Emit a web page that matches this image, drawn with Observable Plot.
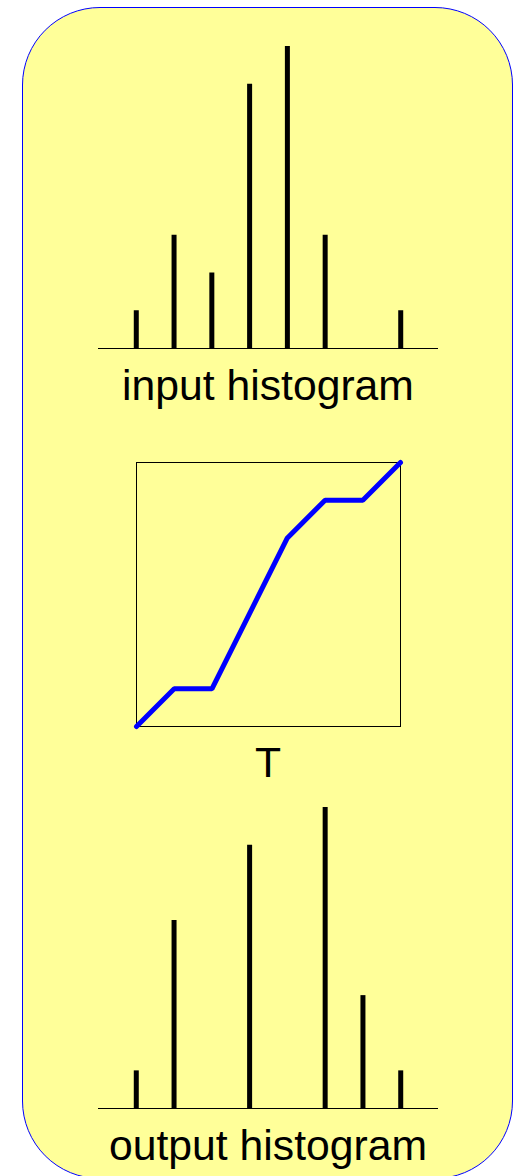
<!DOCTYPE html>
<html>
<head>
<meta charset="utf-8">
<script src="https://cdn.jsdelivr.net/npm/d3@7"></script>
<script src="https://cdn.jsdelivr.net/npm/@observablehq/plot@0.6"></script>
<style>
  html, body { margin: 0; padding: 0; background: #fff; }
  #page { position: relative; width: 516px; height: 1176px; overflow: hidden; }
  #card {
    position: absolute; left: 22px; top: 7px; width: 491px; height: 1172px;
    box-sizing: border-box; border: 1px solid #0000ff; border-radius: 78px;
    background: #ffff99;
  }
  .panel { position: absolute; left: 0; }
  .caption {
    position: absolute; left: 68px; width: 400px; text-align: center;
    font-family: "Liberation Sans", Arial, sans-serif; font-size: 42.7px;
    line-height: 42.7px; color: #000; white-space: nowrap;
  }
  svg { overflow: visible; }
</style>
</head>
<body>
<div id="page">
  <div id="card"></div>
</div>
<script>
// Grey levels 0..7
const levels = [0, 1, 2, 3, 4, 5, 6, 7];
// Pixel counts per level before equalisation
const inputCounts = [1, 3, 2, 7, 8, 3, 0, 1];
// Transfer function T: input level -> output level
const transfer = [0, 1, 1, 3, 5, 6, 6, 7];
// Pixel counts per level after applying T
const outputCounts = [1, 5, 0, 7, 0, 8, 3, 1];
// Caption texts
const captions = ["input histogram", "T", "output histogram"];

const page = document.getElementById("page");

function place(node, top) {
  node.classList.add("panel");
  node.style.top = top + "px";
  page.appendChild(node);
}

function caption(text, top) {
  const d = document.createElement("div");
  d.className = "caption";
  d.style.top = top + "px";
  d.textContent = text;
  page.appendChild(d);
}

function histogram(counts, height, marginTop) {
  const rows = levels.map((l, i) => ({level: l, count: counts[i]})).filter(d => d.count > 0);
  return Plot.plot({
    width: 516,
    height,
    marginLeft: 98,
    marginRight: 78,
    marginTop,
    marginBottom: 12,
    x: {domain: [-1, 8], axis: null},
    y: {domain: [0, 8], axis: null},
    style: {background: "transparent"},
    marks: [
      Plot.ruleY([0], {stroke: "#000", strokeWidth: 1}),
      Plot.ruleX(rows, {x: "level", y1: 0, y2: "count", stroke: "#000", strokeWidth: 5})
    ]
  });
}

// Input histogram
place(histogram(inputCounts, 360, 46), 0);
caption(captions[0], 363.9);

// Transfer curve inside its box
const curve = levels.map((l, i) => ({level: l, t: transfer[i]}));
const tPlot = Plot.plot({
  width: 516,
  height: 300,
  marginLeft: 136,
  marginRight: 116,
  marginTop: 22,
  marginBottom: 14,
  x: {domain: [0, 7], axis: null},
  y: {domain: [0, 7], axis: null},
  style: {background: "transparent"},
  marks: [
    Plot.frame({stroke: "#000", strokeWidth: 1}),
    Plot.line(curve, {x: "level", y: "t", stroke: "#0000ff", strokeWidth: 5, strokeLinejoin: "miter"})
  ]
});
place(tPlot, 440);
caption(captions[1], 740.9);

// Output histogram
place(histogram(outputCounts, 340, 27), 780);
caption(captions[2], 1123.9);
</script>
</body>
</html>
